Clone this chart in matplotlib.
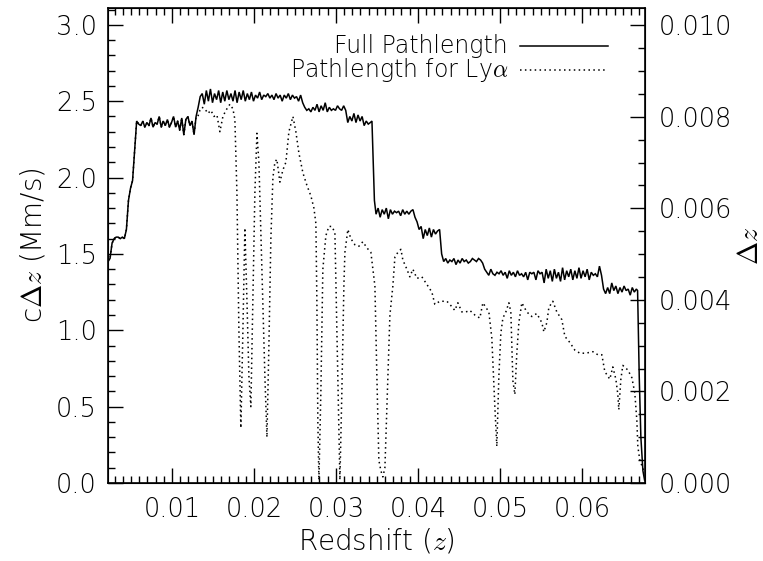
import numpy as np
import matplotlib
matplotlib.use("Agg")
import matplotlib.pyplot as plt
from matplotlib.ticker import MultipleLocator

plt.rcParams['font.family'] = ['DejaVu Sans']
plt.rcParams['font.weight'] = 200
plt.rcParams['axes.labelweight'] = 200
plt.rcParams['mathtext.fontset'] = 'cm'

C_MMS = 299.792458  # speed of light, Mm/s

# full pathlength: redshift and c*dz (Mm/s)
z_full = [
    0.00220, 0.00245, 0.00270, 0.00295, 0.00320, 0.00345, 0.00370, 0.00395, 0.00420, 0.00445,
    0.00470, 0.00495, 0.00520, 0.00545, 0.00570, 0.00595, 0.00620, 0.00645, 0.00670, 0.00695,
    0.00720, 0.00745, 0.00770, 0.00795, 0.00820, 0.00845, 0.00870, 0.00895, 0.00920, 0.00945,
    0.00970, 0.00995, 0.01020, 0.01045, 0.01070, 0.01095, 0.01120, 0.01145, 0.01170, 0.01195,
    0.01220, 0.01245, 0.01270, 0.01295, 0.01320, 0.01345, 0.01370, 0.01395, 0.01420, 0.01445,
    0.01470, 0.01495, 0.01520, 0.01545, 0.01570, 0.01595, 0.01620, 0.01645, 0.01670, 0.01695,
    0.01720, 0.01745, 0.01770, 0.01795, 0.01820, 0.01845, 0.01870, 0.01895, 0.01920, 0.01945,
    0.01970, 0.01995, 0.02020, 0.02045, 0.02070, 0.02095, 0.02120, 0.02145, 0.02170, 0.02195,
    0.02220, 0.02245, 0.02270, 0.02295, 0.02320, 0.02345, 0.02370, 0.02395, 0.02420, 0.02445,
    0.02470, 0.02495, 0.02520, 0.02545, 0.02570, 0.02595, 0.02620, 0.02645, 0.02670, 0.02695,
    0.02720, 0.02745, 0.02770, 0.02795, 0.02820, 0.02845, 0.02870, 0.02895, 0.02920, 0.02945,
    0.02970, 0.02995, 0.03020, 0.03045, 0.03070, 0.03095, 0.03120, 0.03145, 0.03170, 0.03195,
    0.03220, 0.03245, 0.03270, 0.03295, 0.03320, 0.03345, 0.03370, 0.03395, 0.03420, 0.03440,
    0.03455, 0.03470, 0.03490, 0.03515, 0.03540, 0.03565, 0.03590, 0.03615, 0.03640, 0.03665,
    0.03690, 0.03715, 0.03740, 0.03765, 0.03790, 0.03815, 0.03840, 0.03865, 0.03890, 0.03915,
    0.03940, 0.03965, 0.03990, 0.04015, 0.04040, 0.04065, 0.04090, 0.04115, 0.04140, 0.04165,
    0.04190, 0.04215, 0.04240, 0.04265, 0.04290, 0.04315, 0.04340, 0.04365, 0.04390, 0.04415,
    0.04440, 0.04465, 0.04490, 0.04515, 0.04540, 0.04565, 0.04590, 0.04615, 0.04640, 0.04665,
    0.04690, 0.04715, 0.04740, 0.04765, 0.04790, 0.04815, 0.04840, 0.04865, 0.04890, 0.04915,
    0.04940, 0.04965, 0.04990, 0.05015, 0.05040, 0.05065, 0.05090, 0.05115, 0.05140, 0.05165,
    0.05190, 0.05215, 0.05240, 0.05265, 0.05290, 0.05315, 0.05340, 0.05365, 0.05390, 0.05415,
    0.05440, 0.05465, 0.05490, 0.05515, 0.05540, 0.05565, 0.05590, 0.05615, 0.05640, 0.05665,
    0.05690, 0.05715, 0.05740, 0.05765, 0.05790, 0.05815, 0.05840, 0.05865, 0.05890, 0.05915,
    0.05940, 0.05965, 0.05990, 0.06015, 0.06040, 0.06065, 0.06090, 0.06115, 0.06140, 0.06165,
    0.06190, 0.06215, 0.06240, 0.06265, 0.06290, 0.06315, 0.06340, 0.06365, 0.06390, 0.06415,
    0.06440, 0.06465, 0.06490, 0.06515, 0.06540, 0.06565, 0.06590, 0.06615, 0.06640, 0.06665,
    0.06680, 0.06700, 0.06720, 0.06745, 0.06765,
]
cdz_full = [
    1.45, 1.47, 1.57, 1.60, 1.61, 1.61, 1.60, 1.61, 1.60, 1.66,
    1.85, 1.93, 1.98, 2.18, 2.37, 2.35, 2.34, 2.37, 2.33, 2.36,
    2.34, 2.39, 2.33, 2.36, 2.35, 2.40, 2.33, 2.37, 2.34, 2.38,
    2.33, 2.36, 2.40, 2.33, 2.37, 2.31, 2.39, 2.28, 2.38, 2.40,
    2.34, 2.37, 2.28, 2.40, 2.46, 2.53, 2.55, 2.48, 2.57, 2.50,
    2.58, 2.49, 2.55, 2.51, 2.57, 2.49, 2.56, 2.50, 2.57, 2.51,
    2.55, 2.50, 2.57, 2.49, 2.56, 2.51, 2.57, 2.50, 2.55, 2.51,
    2.56, 2.50, 2.54, 2.52, 2.56, 2.51, 2.54, 2.53, 2.55, 2.52,
    2.54, 2.51, 2.55, 2.52, 2.54, 2.50, 2.54, 2.52, 2.55, 2.51,
    2.54, 2.52, 2.53, 2.50, 2.54, 2.49, 2.46, 2.44, 2.45, 2.43,
    2.46, 2.44, 2.48, 2.43, 2.47, 2.44, 2.49, 2.43, 2.46, 2.44,
    2.45, 2.44, 2.47, 2.45, 2.44, 2.47, 2.44, 2.36, 2.40, 2.37,
    2.42, 2.36, 2.41, 2.37, 2.40, 2.34, 2.37, 2.35, 2.36, 2.37,
    2.10, 1.85, 1.76, 1.80, 1.74, 1.79, 1.76, 1.80, 1.73, 1.79,
    1.76, 1.78, 1.77, 1.78, 1.75, 1.79, 1.76, 1.78, 1.76, 1.78,
    1.79, 1.74, 1.71, 1.66, 1.68, 1.60, 1.66, 1.62, 1.67, 1.61,
    1.66, 1.63, 1.65, 1.66, 1.50, 1.45, 1.47, 1.44, 1.46, 1.45,
    1.47, 1.43, 1.46, 1.44, 1.47, 1.45, 1.46, 1.44, 1.45, 1.47,
    1.46, 1.45, 1.47, 1.46, 1.44, 1.40, 1.38, 1.36, 1.40, 1.37,
    1.36, 1.38, 1.37, 1.39, 1.36, 1.38, 1.34, 1.39, 1.36, 1.38,
    1.35, 1.39, 1.36, 1.37, 1.35, 1.38, 1.33, 1.38, 1.37, 1.38,
    1.33, 1.39, 1.37, 1.38, 1.31, 1.40, 1.34, 1.39, 1.32, 1.40,
    1.34, 1.38, 1.32, 1.41, 1.33, 1.39, 1.35, 1.40, 1.33, 1.39,
    1.34, 1.41, 1.34, 1.39, 1.35, 1.40, 1.33, 1.38, 1.36, 1.37,
    1.35, 1.42, 1.36, 1.27, 1.24, 1.28, 1.24, 1.31, 1.26, 1.29,
    1.24, 1.28, 1.25, 1.29, 1.26, 1.27, 1.23, 1.28, 1.25, 1.27,
    1.26, 0.70, 0.30, 0.08, 0.02,
]

# pathlength for Ly-alpha: same as full up to z~0.013, then its own values
n_shared = 44
z_lya_tail = [
    0.01317, 0.01341, 0.01366, 0.01402, 0.01439, 0.01476, 0.01512, 0.01549, 0.01585, 0.01622,
    0.01659, 0.01707, 0.01744, 0.01768, 0.01793, 0.01817, 0.01841, 0.01866, 0.01890, 0.01915,
    0.01939, 0.01963, 0.01988, 0.02012, 0.02037, 0.02061, 0.02098, 0.02134, 0.02159, 0.02183,
    0.02207, 0.02232, 0.02256, 0.02280, 0.02317, 0.02354, 0.02390, 0.02427, 0.02476, 0.02512,
    0.02549, 0.02598, 0.02646, 0.02695, 0.02732, 0.02756, 0.02768, 0.02780, 0.02793, 0.02817,
    0.02841, 0.02878, 0.02915, 0.02951, 0.02988, 0.03012, 0.03037, 0.03049, 0.03073, 0.03098,
    0.03110, 0.03146, 0.03183, 0.03232, 0.03280, 0.03329, 0.03378, 0.03427, 0.03451, 0.03476,
    0.03500, 0.03524, 0.03549, 0.03573, 0.03598, 0.03622, 0.03659, 0.03695, 0.03720, 0.03756,
    0.03793, 0.03817, 0.03866, 0.03902, 0.03939, 0.03988, 0.04049, 0.04110, 0.04171, 0.04207,
    0.04268, 0.04317, 0.04354, 0.04390, 0.04451, 0.04488, 0.04537, 0.04585, 0.04634, 0.04695,
    0.04756, 0.04793, 0.04829, 0.04866, 0.04902, 0.04939, 0.04963, 0.04988, 0.05012, 0.05037,
    0.05073, 0.05110, 0.05134, 0.05159, 0.05183, 0.05207, 0.05232, 0.05268, 0.05329, 0.05390,
    0.05451, 0.05512, 0.05537, 0.05573, 0.05598, 0.05646, 0.05695, 0.05756, 0.05793, 0.05854,
    0.05915, 0.05976, 0.06049, 0.06134, 0.06195, 0.06244, 0.06280, 0.06341, 0.06378, 0.06415,
    0.06439, 0.06451, 0.06476, 0.06500, 0.06561, 0.06610, 0.06646, 0.06671, 0.06683, 0.06707,
    0.06756,
]
cdz_lya_tail = [
    2.40, 2.44, 2.46, 2.45, 2.42, 2.44, 2.40, 2.41, 2.30, 2.40,
    2.44, 2.48, 2.45, 2.38, 1.90, 1.00, 0.36, 1.00, 1.67, 1.20,
    0.70, 0.50, 1.20, 1.90, 2.29, 2.10, 1.40, 0.70, 0.30, 0.90,
    1.60, 2.00, 2.10, 2.12, 1.97, 2.05, 2.10, 2.30, 2.40, 2.30,
    2.16, 2.03, 1.95, 1.88, 1.80, 1.70, 1.20, 0.40, 0.02, 0.60,
    1.40, 1.62, 1.68, 1.68, 1.64, 1.00, 0.30, 0.02, 0.60, 1.30,
    1.51, 1.66, 1.60, 1.56, 1.55, 1.58, 1.54, 1.51, 1.40, 1.29,
    0.70, 0.15, 0.08, 0.04, 0.10, 0.50, 1.10, 1.29, 1.48, 1.51,
    1.53, 1.46, 1.40, 1.35, 1.40, 1.34, 1.35, 1.30, 1.25, 1.17,
    1.19, 1.19, 1.19, 1.17, 1.13, 1.18, 1.12, 1.12, 1.13, 1.10,
    1.08, 1.18, 1.15, 1.12, 0.95, 0.50, 0.24, 0.70, 0.98, 1.08,
    1.12, 1.18, 1.12, 0.67, 0.58, 0.85, 1.05, 1.18, 1.12, 1.09,
    1.11, 1.05, 0.99, 1.05, 1.15, 1.19, 1.12, 1.07, 0.96, 0.92,
    0.87, 0.85, 0.85, 0.86, 0.84, 0.84, 0.73, 0.68, 0.76, 0.68,
    0.58, 0.48, 0.68, 0.77, 0.74, 0.69, 0.59, 0.41, 0.24, 0.15,
    0.08,
]
z_lya = z_full[:n_shared] + z_lya_tail
cdz_lya = cdz_full[:n_shared] + cdz_lya_tail

fig = plt.figure(figsize=(7.63, 5.61), dpi=100)
ax = fig.add_axes([0.1415, 0.139, 0.7038, 0.8467])

ax.plot(z_full, cdz_full, color='black', lw=1.1, solid_joinstyle='miter')
ax.plot(z_lya, cdz_lya, color='black', lw=1.1, linestyle=(0, (1, 2.2)))

ax.set_xlim(0.0022, 0.0677)
ax.set_ylim(0.0, 3.11)
ax.xaxis.set_major_locator(MultipleLocator(0.01))
ax.xaxis.set_minor_locator(MultipleLocator(0.001))
ax.yaxis.set_major_locator(MultipleLocator(0.5))
ax.yaxis.set_minor_locator(MultipleLocator(0.1))
ax.xaxis.set_major_formatter(lambda v, p: f"{v:.2f}")
ax.yaxis.set_major_formatter(lambda v, p: f"{v:.1f}")
ax.tick_params(which='both', direction='in', top=True, right=True, labelsize=18.5, width=1)
ax.tick_params(which='major', length=11)
ax.tick_params(which='minor', length=5)
ax.tick_params(axis='x', pad=10)
ax.tick_params(axis='y', pad=8)
for s in ax.spines.values():
    s.set_linewidth(1.2)

ax.set_xlabel(r"Redshift ($z$)", fontsize=20, labelpad=3)
ax.set_ylabel(r"c$\Delta z$ (Mm/s)", fontsize=20, labelpad=6)

ax2 = ax.twinx()
lo, hi = ax.get_ylim()
ax2.set_ylim(lo / C_MMS, hi / C_MMS)
ax2.yaxis.set_major_locator(MultipleLocator(0.002))
ax2.yaxis.set_minor_locator(MultipleLocator(0.0005))
ax2.yaxis.set_major_formatter(lambda v, p: f"{v:.3f}")
ax2.tick_params(which='both', direction='in', labelsize=18.5, width=1, pad=10)
ax2.tick_params(which='major', length=11)
ax2.tick_params(which='minor', length=5)
ax2.set_ylabel(r"$\Delta z$", fontsize=20, labelpad=3)

# legend, text right-aligned in front of the line samples
labels = ["Full Pathlength", r"Pathlength for Ly$\alpha$"]
styles = ['-', (0, (1, 2.2))]
for i, (lab, ls) in enumerate(zip(labels, styles)):
    yy = 0.919 - i * 0.050
    ax.text(0.745, yy, lab, transform=ax.transAxes, ha='right', va='center', fontsize=17)
    ax.plot([0.767, 0.931], [yy, yy], transform=ax.transAxes, color='black', lw=1.1, linestyle=ls)

fig.savefig("out.png", dpi=100)
